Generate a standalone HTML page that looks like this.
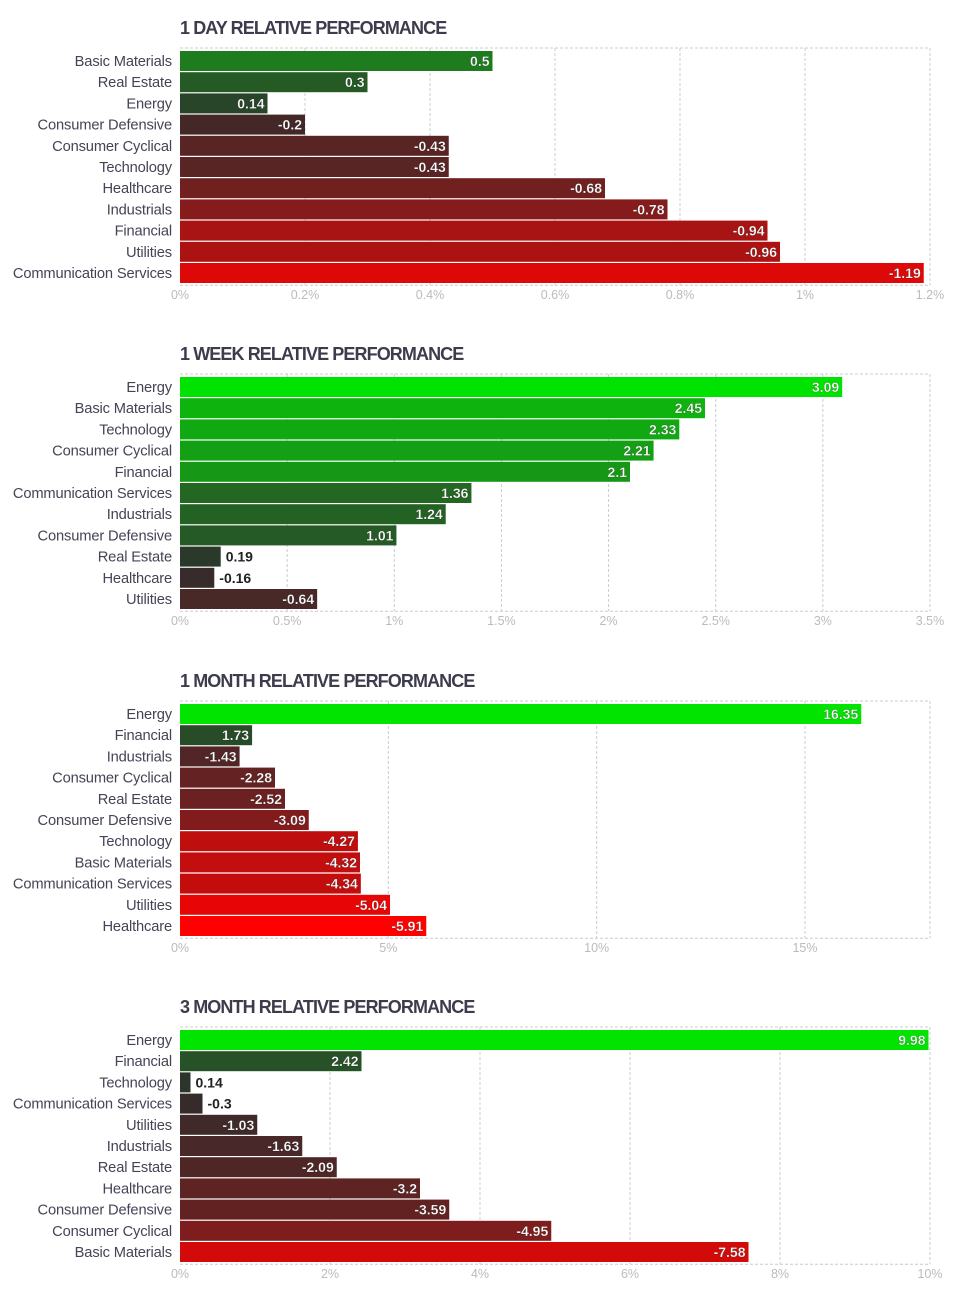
<!DOCTYPE html>
<html><head><meta charset="utf-8">
<style>
body{margin:0;background:#fff;width:976px;height:1301px;overflow:hidden;font-family:"Liberation Sans",sans-serif;}
svg{display:block;position:absolute;left:0;}
</style></head>
<body>
<div id="root"></div>
<script>
const titles=["1 DAY RELATIVE PERFORMANCE","1 WEEK RELATIVE PERFORMANCE","1 MONTH RELATIVE PERFORMANCE","3 MONTH RELATIVE PERFORMANCE"];
const cats1=["Basic Materials","Real Estate","Energy","Consumer Defensive","Consumer Cyclical","Technology","Healthcare","Industrials","Financial","Utilities","Communication Services"];
const vals1=[0.5,0.3,0.14,-0.2,-0.43,-0.43,-0.68,-0.78,-0.94,-0.96,-1.19];
const ticks1=["0%","0.2%","0.4%","0.6%","0.8%","1%","1.2%"];
const cats2=["Energy","Basic Materials","Technology","Consumer Cyclical","Financial","Communication Services","Industrials","Consumer Defensive","Real Estate","Healthcare","Utilities"];
const vals2=[3.09,2.45,2.33,2.21,2.1,1.36,1.24,1.01,0.19,-0.16,-0.64];
const ticks2=["0%","0.5%","1%","1.5%","2%","2.5%","3%","3.5%"];
const cats3=["Energy","Financial","Industrials","Consumer Cyclical","Real Estate","Consumer Defensive","Technology","Basic Materials","Communication Services","Utilities","Healthcare"];
const vals3=[16.35,1.73,-1.43,-2.28,-2.52,-3.09,-4.27,-4.32,-4.34,-5.04,-5.91];
const ticks3=["0%","5%","10%","15%"];
const cats4=["Energy","Financial","Technology","Communication Services","Utilities","Industrials","Real Estate","Healthcare","Consumer Defensive","Consumer Cyclical","Basic Materials"];
const vals4=[9.98,2.42,0.14,-0.3,-1.03,-1.63,-2.09,-3.2,-3.59,-4.95,-7.58];
const ticks4=["0%","2%","4%","6%","8%","10%"];
const charts=[
 {t:titles[0],c:cats1,v:vals1,ticks:ticks1,max:1.2,step:0.2,pos:0.9,neg:1.35},
 {t:titles[1],c:cats2,v:vals2,ticks:ticks2,max:3.5,step:0.5,pos:3.1,neg:3.5},
 {t:titles[2],c:cats3,v:vals3,ticks:ticks3,max:18,step:5,pos:8,neg:5.5},
 {t:titles[3],c:cats4,v:vals4,ticks:ticks4,max:10,step:2,pos:9,neg:9}
];
const tops=[0,326,653,979];
const NS="http://www.w3.org/2000/svg";
function mix(a,b,t){t=Math.max(0,Math.min(1,t));return "rgb("+a.map((x,i)=>Math.round(x+(b[i]-x)*t)).join(",")+")";}
function color(v,ch){
 if(v>=0){const t=v/ch.pos;return t<0.5?mix([44,50,44],[34,110,34],t*2):mix([34,110,34],[0,228,0],(t-0.5)*2);}
 const t=-v/ch.neg;return t<0.5?mix([50,44,44],[112,32,32],t*2):mix([112,32,32],[255,0,0],(t-0.5)*2);
}
function el(tag,attrs,parent){const e=document.createElementNS(NS,tag);for(const k in attrs)e.setAttribute(k,attrs[k]);parent.appendChild(e);return e;}
const root=document.getElementById('root');
charts.forEach((ch,ci)=>{
 const svg=document.createElementNS(NS,'svg');
 svg.setAttribute('width',976);svg.setAttribute('height',326);
 svg.style.top=tops[ci]+'px';
 
 
 root.appendChild(svg);
 const x0=180,W=750,top=48,rowH=21.2,n=ch.c.length,bottom=top+3+n*rowH+1;
 const xs=v=>x0+Math.abs(v)/ch.max*W;
 const title=el('text',{x:180,y:34,'font-size':18,'font-weight':'bold',fill:'#3c3c4c','letter-spacing':'-0.9'},svg);
 title.textContent=ch.t;
 
 
 el('line',{x1:x0,x2:x0+W,y1:top,y2:top,stroke:'#ccc','stroke-dasharray':'3,2'},svg);
 el('line',{x1:x0,x2:x0+W,y1:bottom,y2:bottom,stroke:'#ccc','stroke-dasharray':'3,2'},svg);
 el('line',{x1:x0+W,x2:x0+W,y1:top,y2:bottom,stroke:'#ccc','stroke-dasharray':'3,2'},svg);
 ch.ticks.forEach((tk,i)=>{
  const x=xs(i*ch.step);
  if(i>0)el('line',{x1:x,x2:x,y1:top,y2:bottom,stroke:'#ccc','stroke-dasharray':'3,2'},svg);
  const t=el('text',{x:x,y:bottom+14,'font-size':12.5,fill:'#bbb','text-anchor':'middle'},svg);
  t.textContent=tk;
  
  
 });
 ch.c.forEach((c,i)=>{
  const v=ch.v[i],y=top+3+i*rowH,w=xs(v)-x0;
  const lab=el('text',{x:172,y:y+15,'font-size':14.7,fill:'#444455','text-anchor':'end','letter-spacing':'-0.15'},svg);
  lab.textContent=c;
  
  
  const r=el('rect',{x:x0,y:y,width:w,height:rowH-1.2,fill:color(v,ch)},svg);
  
  
  const s=String(v);
  const tw=s.length*8.5;
  const inside=w>tw+8;
  const vt=el('text',{x:inside?x0+w-3:x0+w+5,y:y+15,'font-size':14,'font-weight':'bold','text-anchor':inside?'end':'start',fill:inside?'#fff':'#222'},svg);
  if(inside){vt.setAttribute('stroke','rgba(0,0,0,0.35)');vt.setAttribute('stroke-width','0.5');}
  vt.textContent=s;
  
  
 });
});
</script>
</body></html>
